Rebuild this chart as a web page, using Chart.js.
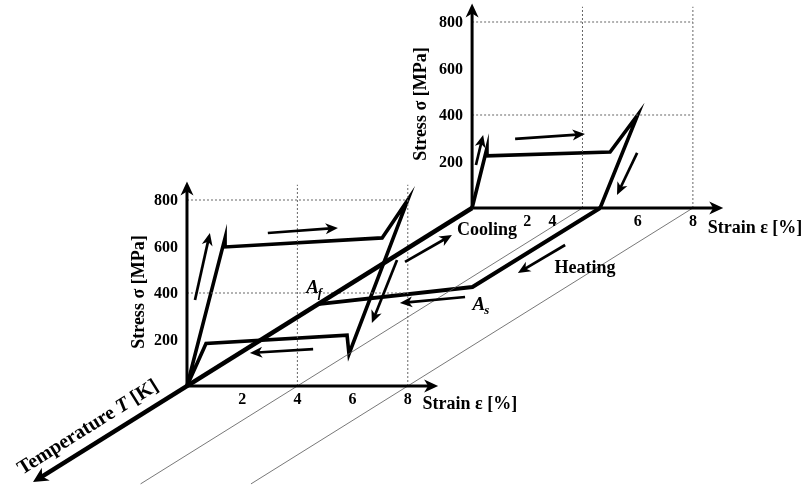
<!DOCTYPE html>
<html>
<head>
<meta charset="utf-8">
<script src="https://cdn.jsdelivr.net/npm/chart.js@4/dist/chart.umd.min.js"></script>
<style>
  html, body { margin: 0; padding: 0; background: #fff; }
  canvas { display: block; }
</style>
</head>
<body>
<canvas id="chart" width="803" height="486"></canvas>
<script>
// ---------------- data ----------------
// Superelastic loop, tested above Af (hot plane)
const hotStrain = [0, 1.38, 1.38, 7.07, 8.0, 5.87, 5.8, 0.69, 0];
const hotStress = [0, 637, 598, 637, 800, 138, 219, 183, 0];

// Loading / unloading below Mf (cold plane) leaving a residual strain
const coldStrain = [0, 0.54, 0.54, 5.0, 6.0, 4.64];
const coldStress = [0, 258, 224, 241, 400, 0];

// Strain recovery while heating (normalised temperature: 0 = cold plane, 1 = hot plane)
const heatStrain = [4.64, 4.6, 0];
const heatTemp = [0, 0.444, 0.54];

// Temperature level of each stress-strain plane
const coldLevel = 0;
const hotLevel = 1;

// Axis ticks and grid
const strainTicks = [2, 4, 6, 8];
const stressTicks = [200, 400, 600, 800];
const strainGrid = [4, 8];
const stressGrid = [400, 800];

// Direction arrows: [strain0, stress0, strain1, stress1]
const hotArrows = [[0.29, 370, 0.83, 658], [2.93, 658, 5.47, 680], [7.61, 542, 6.70, 271], [4.57, 159, 2.28, 142]];
const coldArrows = [[0.14, 185, 0.40, 314], [1.56, 297, 4.09, 318], [5.98, 237, 5.25, 56]];
// Arrows on the strain-temperature floor: [strain0, temp0, strain1, temp1]
const floorArrows = [[0.70, 0.303, 0.84, 0.152], [5.52, 0.208, 5.43, 0.365], [4.91, 0.5, 2.9, 0.534]];

// ---------------- oblique projection ----------------
// moving from the hot plane towards the cold plane shifts points right and up
const SKEW_X = 10.33;   // strain units per temperature step
const SKEW_Y = 765.6;   // stress units per temperature step
function proj(strain, stress, temp) {
  const d = hotLevel - temp;
  return { x: strain + SKEW_X * d, y: stress + SKEW_Y * d };
}

const AXIS_STRAIN_END = 9.1;
const AXIS_STRESS_END = 880;
const GRID_STRESS_END = 866;
const TEMP_AXIS_END = 1.54;
const FLOOR_LINE_END = 1.55;

const BLACK = '#000';
function line(points, style) {
  return Object.assign({
    data: points, showLine: true, pointRadius: 0, tension: 0, fill: false,
    borderColor: BLACK, borderWidth: 1, borderJoinStyle: 'miter', borderCapStyle: 'butt'
  }, style);
}

const datasets = [];

// thin guide lines on the floor at the strain grid values
strainGrid.forEach(e => {
  datasets.push(line([proj(e, 0, coldLevel), proj(e, 0, FLOOR_LINE_END)],
    { borderColor: '#555', borderWidth: 0.8 }));
});

// dotted grid on both planes
[hotLevel, coldLevel].forEach(t => {
  strainGrid.forEach(e => {
    datasets.push(line([proj(e, 0, t), proj(e, GRID_STRESS_END, t)],
      { borderColor: '#666', borderWidth: 1, borderDash: [2, 2] }));
  });
  stressGrid.forEach(s => {
    datasets.push(line([proj(0, s, t), proj(8, s, t)],
      { borderColor: '#666', borderWidth: 1, borderDash: [2, 2] }));
  });
});

// stress-strain curves
datasets.push(line(hotStrain.map((e, i) => proj(e, hotStress[i], hotLevel)),
  { borderWidth: 3.6 }));
datasets.push(line(coldStrain.map((e, i) => proj(e, coldStress[i], coldLevel)),
  { borderWidth: 3.6 }));
// heating path on the floor
datasets.push(line(heatStrain.map((e, i) => proj(e, 0, heatTemp[i])),
  { borderWidth: 4 }));

// ---------------- overlay: axes, arrows, text ----------------
const SERIF = '"Liberation Serif", "Times New Roman", serif';

function arrow(ctx, a, b, lw, len, half) {
  const dx = b.x - a.x, dy = b.y - a.y, L = Math.hypot(dx, dy);
  const ux = dx / L, uy = dy / L, nx = -uy, ny = ux;
  ctx.lineWidth = lw;
  ctx.lineCap = 'butt';
  ctx.beginPath();
  ctx.moveTo(a.x, a.y);
  ctx.lineTo(b.x - ux * len * 0.6, b.y - uy * len * 0.6);
  ctx.stroke();
  ctx.beginPath();
  ctx.moveTo(b.x, b.y);
  ctx.lineTo(b.x - ux * len + nx * half, b.y - uy * len + ny * half);
  ctx.lineTo(b.x - ux * len * 0.72, b.y - uy * len * 0.72);
  ctx.lineTo(b.x - ux * len - nx * half, b.y - uy * len - ny * half);
  ctx.closePath();
  ctx.fill();
}

const overlay = {
  id: 'overlay',
  afterDatasetsDraw(chart) {
    const ctx = chart.ctx;
    const sx = chart.scales.x, sy = chart.scales.y;
    const px = (e, s, t) => {
      const p = proj(e, s, t);
      return { x: sx.getPixelForValue(p.x), y: sy.getPixelForValue(p.y) };
    };
    ctx.save();
    ctx.strokeStyle = BLACK;
    ctx.fillStyle = BLACK;

    // temperature axis (thick), from the cold origin towards the viewer
    arrow(ctx, px(0, 0, coldLevel), px(0, 0, TEMP_AXIS_END), 4.5, 15, 7.5);

    // stress and strain axes of both planes
    [hotLevel, coldLevel].forEach(t => {
      arrow(ctx, px(0, 0, t), px(0, AXIS_STRESS_END, t), 3, 14, 6.5);
      arrow(ctx, px(0, 0, t), px(AXIS_STRAIN_END, 0, t), 3, 14, 6.5);
    });

    // direction arrows
    const aw = 2.7, al = 12.5, ah = 5.5;
    hotArrows.forEach(a => arrow(ctx, px(a[0], a[1], hotLevel), px(a[2], a[3], hotLevel), aw, al, ah));
    coldArrows.forEach(a => arrow(ctx, px(a[0], a[1], coldLevel), px(a[2], a[3], coldLevel), aw, al, ah));
    floorArrows.forEach(a => arrow(ctx, px(a[0], 0, a[1]), px(a[2], 0, a[3]), aw, al, ah));

    // tick labels
    ctx.font = 'bold 16px ' + SERIF;
    ctx.textBaseline = 'middle';
    [hotLevel, coldLevel].forEach(t => {
      ctx.textAlign = 'center';
      strainTicks.forEach(e => {
        const p = px(e, 0, t);
        // the "4" of the cold plane sits left of its tick to clear the heating path
        const shift = (t === coldLevel && e === 4) ? -30 : 0;
        ctx.fillText(String(e), p.x + shift, p.y + 14);
      });
      ctx.textAlign = 'right';
      stressTicks.forEach(s => {
        const p = px(0, s, t);
        ctx.fillText(String(s), p.x - 9, p.y + 1);
      });
    });

    // axis titles
    ctx.font = 'bold 18px ' + SERIF;
    ctx.textAlign = 'left';
    [[hotLevel, 18], [coldLevel, 20]].forEach(([t, dy]) => {
      const p = px(8.5, 0, t);
      ctx.fillText('Strain \u03B5 [%]', p.x + 1, p.y + dy);
    });
    [[hotLevel, 404, -48], [coldLevel, 447, -51]].forEach(([t, s, dx]) => {
      const p = px(0, s, t);
      ctx.save();
      ctx.translate(p.x + dx, p.y);
      ctx.rotate(-Math.PI / 2);
      ctx.textAlign = 'center';
      ctx.fillText('Stress \u03C3 [MPa]', 0, 0);
      ctx.restore();
    });

    // temperature axis title, written along the axis
    {
      const a = px(0, 0, 1.315), b = px(0, 0, 0.315);
      const ang = Math.atan2(b.y - a.y, b.x - a.x);
      ctx.save();
      ctx.translate(a.x, a.y);
      ctx.rotate(ang);
      const parts = [
        ['Temperature ', 'bold 20px ' + SERIF],
        ['T', 'italic bold 20px ' + SERIF],
        [' [K]', 'bold 20px ' + SERIF]
      ];
      let total = 0;
      parts.forEach(([s, f]) => { ctx.font = f; total += ctx.measureText(s).width; });
      let x = -total / 2;
      ctx.textAlign = 'left';
      ctx.textBaseline = 'middle';
      parts.forEach(([s, f]) => { ctx.font = f; ctx.fillText(s, x, -17); x += ctx.measureText(s).width; });
      ctx.restore();
    }

    // process labels
    ctx.font = 'bold 18px ' + SERIF;
    ctx.textBaseline = 'middle';
    ctx.textAlign = 'left';
    { const p = px(0.73, 0, 0.124); ctx.fillText('Cooling', p.x, p.y); }
    ctx.textAlign = 'center';
    { const p = px(7.57, 0, 0.337); ctx.fillText('Heating', p.x, p.y); }

    // transformation temperatures
    const subLabel = (main, sub, p) => {
      ctx.textAlign = 'left';
      ctx.textBaseline = 'middle';
      ctx.font = 'italic bold 19px ' + SERIF;
      ctx.fillText(main, p.x, p.y);
      const w = ctx.measureText(main).width;
      ctx.font = 'italic bold 13px ' + SERIF;
      ctx.fillText(sub, p.x + w - 1, p.y + 6);
    };
    { const p = px(heatStrain[2], 0, heatTemp[2]); subLabel('A', 'f', { x: p.x - 12, y: p.y - 16 }); }
    { const p = px(heatStrain[1], 0, heatTemp[1]); subLabel('A', 's', { x: p.x, y: p.y + 18 }); }

    ctx.restore();
  }
};

new Chart(document.getElementById('chart'), {
  type: 'scatter',
  data: { datasets },
  options: {
    responsive: false,
    animation: false,
    events: [],
    layout: { padding: 0 },
    plugins: { legend: { display: false }, tooltip: { enabled: false } },
    scales: {
      x: { type: 'linear', min: -6.775, max: 22.32, display: false },
      y: { type: 'linear', min: -430.1, max: 1660.2, display: false }
    }
  },
  plugins: [overlay]
});
</script>
</body>
</html>
